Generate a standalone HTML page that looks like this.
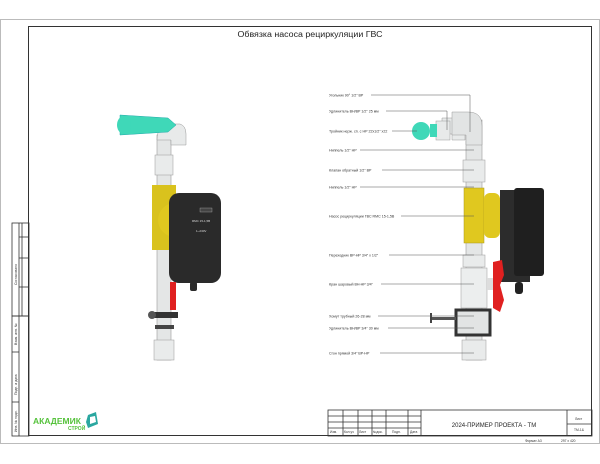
<!DOCTYPE html>
<html><head><meta charset="utf-8"><style>
html,body{margin:0;padding:0;background:#fff;}
svg{display:block;font-family:"Liberation Sans","DejaVu Sans",sans-serif;}
</style></head><body>
<svg width="600" height="464" viewBox="0 0 600 464" xmlns="http://www.w3.org/2000/svg">
<rect x="0" y="0" width="600" height="464" fill="#fff"/>
<rect x="0.5" y="19.5" width="599" height="424" fill="none" stroke="#bbb" stroke-width="1"/>
<rect x="28.5" y="26.5" width="563" height="409" fill="none" stroke="#333" stroke-width="1"/>
<text x="310" y="37" font-size="8" text-anchor="middle" fill="#222" textLength="145" lengthAdjust="spacingAndGlyphs">Обвязка насоса рециркуляции ГВС</text>

<!-- left strip -->
<g stroke="#333" stroke-width="0.8" fill="none">
<rect x="12" y="223" width="17" height="93"/>
<line x1="19" y1="223" x2="19" y2="316"/>
<line x1="22" y1="223" x2="22" y2="316"/>
<line x1="19" y1="237" x2="29" y2="237"/>
<line x1="19" y1="258" x2="29" y2="258"/>
<line x1="19" y1="287" x2="29" y2="287"/>
<rect x="12" y="316" width="17" height="120"/>
<line x1="19" y1="316" x2="19" y2="436"/>
<line x1="12" y1="352" x2="19" y2="352"/>
<line x1="12" y1="402" x2="19" y2="402"/>
</g>
<g font-size="3.5" fill="#333">
<text transform="translate(17,285) rotate(-90)">Согласовано</text>
<text transform="translate(17,345) rotate(-90)">Взам. инв. №</text>
<text transform="translate(17,395) rotate(-90)">Подп. и дата</text>
<text transform="translate(17,432) rotate(-90)">Инв. № подл.</text>
</g>
<text x="33" y="424" font-size="8.5" font-weight="bold" fill="#55c23b">АКАДЕМИК</text>
<text x="68" y="430" font-size="5" font-weight="bold" fill="#55c23b">СТРОЙ</text>
<path d="M88 415 L96 412 L98 424 L88 428 L86 422 Z" fill="#2aa7a0"/>
<path d="M90 417 L95 416 L96 422 L90 424 Z" fill="#fff"/>

<!-- title block -->
<g stroke="#333" stroke-width="0.8" fill="none">
<rect x="328" y="410" width="264" height="26"/>
<line x1="328" y1="416" x2="421" y2="416"/>
<line x1="328" y1="422" x2="421" y2="422"/>
<line x1="328" y1="428" x2="421" y2="428"/>
<line x1="343" y1="410" x2="343" y2="436"/>
<line x1="358" y1="410" x2="358" y2="436"/>
<line x1="372" y1="410" x2="372" y2="436"/>
<line x1="386" y1="410" x2="386" y2="436"/>
<line x1="408" y1="410" x2="408" y2="436"/>
<line x1="421" y1="410" x2="421" y2="436"/>
<line x1="567" y1="410" x2="567" y2="436"/>
<line x1="567" y1="424" x2="592" y2="424"/>
</g>
<g font-size="3.3" fill="#333">
<text x="330" y="433">Изм.</text><text x="344" y="433">Кол.уч</text><text x="359" y="433">Лист</text><text x="373" y="433">№док.</text><text x="392" y="433">Подп.</text><text x="410" y="433">Дата</text>
<text x="575" y="420">Лист</text><text x="574" y="431">ТМ-1&amp;</text>
<text x="525" y="442">Формат А3</text><text x="561" y="442">297 х 420</text>
</g>
<text x="494" y="427" font-size="6" text-anchor="middle" fill="#222">2024-ПРИМЕР ПРОЕКТА - ТМ</text>

<!-- left assembly -->
<g>
<rect x="157" y="135" width="14" height="225" fill="#e4e6e6" stroke="#999" stroke-width="0.6"/>
<rect x="155" y="155" width="18" height="20" fill="#e9ebeb" stroke="#999" stroke-width="0.5"/>
<rect x="154" y="340" width="20" height="20" fill="#e9ebeb" stroke="#999" stroke-width="0.5"/>
<path d="M157 140 Q157 124 172 124 L180 124 Q186 126 186 134 L186 145 L171 145 L171 140 Z" fill="#e8eaea" stroke="#999" stroke-width="0.5"/>
<path d="M120 115 L168 118 L176 125 L168 132 L120 135 Z" fill="#3fd8b8" stroke="#2aa" stroke-width="0.5"/>
<ellipse cx="124" cy="125" rx="7" ry="9" fill="#3fd8b8"/>
<path d="M152 185 L176 185 L176 250 L152 250 Z" fill="#d9c21d"/>
<circle cx="175" cy="220" r="17" fill="#e0c81f"/>
<rect x="169" y="193" width="52" height="90" rx="10" fill="#2a2a2a"/>
<rect x="200" y="208" width="12" height="4" fill="#444" stroke="#ccc" stroke-width="0.3"/>
<text x="192" y="222" font-size="3" fill="#ddd">RMC 15-1,5В</text>
<text x="196" y="232" font-size="3" fill="#ddd">1~230V</text>
<rect x="170" y="282" width="6" height="28" fill="#e02020"/>
<rect x="190" y="282" width="7" height="9" rx="2" fill="#2a2a2a"/>
<rect x="152" y="312" width="26" height="6" fill="#333"/>
<circle cx="152" cy="315" r="4" fill="#555"/>
<rect x="155" y="325" width="19" height="4" fill="#444"/>
</g>

<!-- right assembly -->
<g>
<rect x="466" y="120" width="16" height="240" fill="#e4e6e6" stroke="#999" stroke-width="0.6"/>
<path d="M465 140 L465 128 Q465 118 455 118 L442 118 L442 134 L452 134 L452 140 Z" fill="#e8eaea" stroke="#999" stroke-width="0.5"/>
<path d="M452 135 L466 135 L466 145 L482 145 L482 126 Q482 112 468 112 L452 112 Z" fill="#e2e4e4" stroke="#999" stroke-width="0.5"/>
<rect x="436" y="121" width="14" height="19" fill="#e8eaea" stroke="#999" stroke-width="0.5"/>
<rect x="430" y="124" width="7" height="13" fill="#3fd8b8"/>
<circle cx="421" cy="131" r="9" fill="#3fd8b8"/>
<rect x="463" y="160" width="22" height="22" fill="#e9ebeb" stroke="#999" stroke-width="0.5"/>
<rect x="464" y="188" width="20" height="55" fill="#e0c81f" stroke="#a8951a" stroke-width="0.5"/>
<rect x="484" y="193" width="16" height="45" rx="6" fill="#e0c81f"/>
<rect x="500" y="190" width="30" height="92" fill="#2c2c2c"/>
<rect x="514" y="188" width="30" height="88" rx="3" fill="#1f1f1f"/>
<rect x="515" y="282" width="8" height="12" rx="3" fill="#222"/>
<rect x="463" y="255" width="22" height="12" fill="#e9ebeb" stroke="#999" stroke-width="0.5"/>
<rect x="461" y="268" width="26" height="40" fill="#eceeee" stroke="#999" stroke-width="0.5"/>
<rect x="487" y="278" width="8" height="12" fill="#ddd"/>
<path d="M493 262 L502 260 L504 275 L500 285 L504 300 L500 312 L493 308 Z" fill="#e02020"/>
<rect x="456" y="310" width="34" height="25" fill="#e2e4e4" stroke="#333" stroke-width="3"/>
<rect x="432" y="317" width="24" height="3" fill="#555"/>
<rect x="430" y="313" width="2" height="10" fill="#444"/>
<rect x="462" y="340" width="24" height="20" fill="#e9ebeb" stroke="#999" stroke-width="0.5"/>
</g>

<!-- leaders -->
<g stroke="#555" stroke-width="0.5" fill="none">
<polyline points="371,95 470,95 470,132"/>
<polyline points="386,111 447,111 447,130"/>
<line x1="392" y1="131" x2="417" y2="131"/>
<line x1="360" y1="150" x2="474" y2="150"/>
<line x1="382" y1="170" x2="474" y2="170"/>
<line x1="360" y1="187" x2="474" y2="187"/>
<line x1="401" y1="216" x2="474" y2="216"/>
<line x1="389" y1="255" x2="474" y2="255"/>
<line x1="381" y1="284" x2="474" y2="284"/>
<line x1="378" y1="316" x2="474" y2="316"/>
<line x1="388" y1="328" x2="474" y2="328"/>
<line x1="380" y1="353" x2="474" y2="353"/>
</g>
<g font-size="3.6" fill="#333">
<text x="329" y="96.5">Угольник 90° 1/2" ВР</text>
<text x="329" y="112.5">Удлинитель ВН/ВР 1/2" 25 мм</text>
<text x="329" y="132.5">Тройник нерж. сп. с НР 22х1/2" х22</text>
<text x="329" y="151.5">Ниппель 1/2" НР</text>
<text x="329" y="171.5">Клапан обратный 1/2" ВР</text>
<text x="329" y="188.5">Ниппель 1/2" НР</text>
<text x="329" y="217.5">Насос рециркуляции ГВС RMC 15-1,5В</text>
<text x="329" y="256.5">Переходник ВР-НР 3/4" х 1/2"</text>
<text x="329" y="285.5">Кран шаровый ВН-НР 3/4"</text>
<text x="329" y="317.5">Хомут трубный 26-28 мм</text>
<text x="329" y="329.5">Удлинитель ВН/ВР 3/4" 30 мм</text>
<text x="329" y="354.5">Сгон прямой 3/4" ВР-НР</text>
</g>
</svg>
</body></html>
